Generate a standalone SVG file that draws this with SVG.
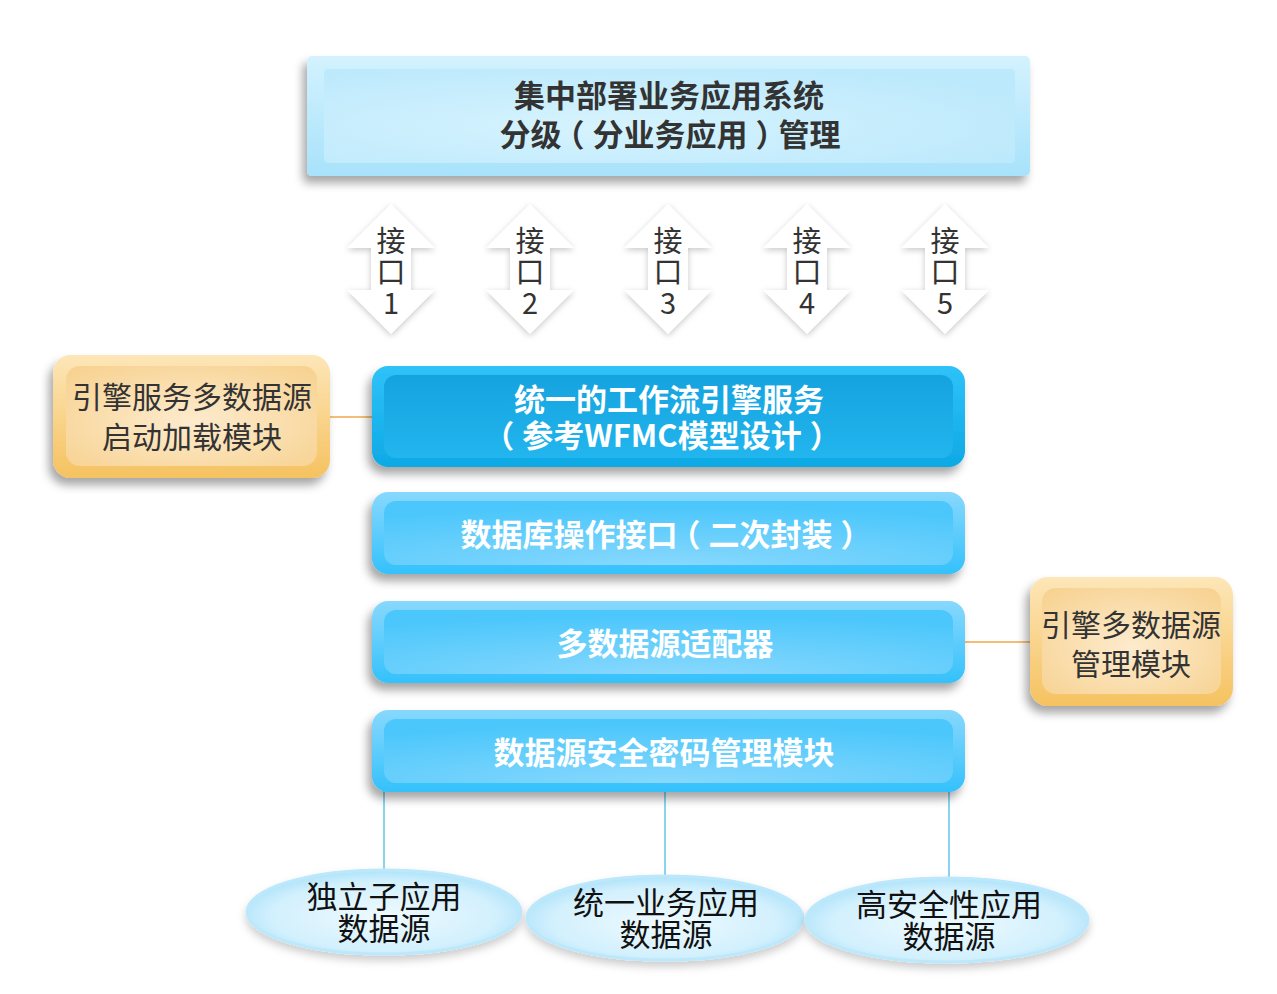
<svg xmlns="http://www.w3.org/2000/svg" width="1277" height="994" viewBox="0 0 1277 994">
<defs>
<filter id="sh" x="-20%" y="-30%" width="140%" height="170%">
<feDropShadow dx="-4" dy="7" stdDeviation="5" flood-color="#000" flood-opacity="0.35"/>
</filter>
<filter id="ash" x="-40%" y="-20%" width="180%" height="140%">
<feDropShadow dx="0" dy="2" stdDeviation="3" flood-color="#000" flood-opacity="0.22"/>
</filter>
<filter id="esh" x="-20%" y="-30%" width="140%" height="170%">
<feDropShadow dx="0" dy="5" stdDeviation="4" flood-color="#000" flood-opacity="0.2"/>
</filter>
<linearGradient id="topOuter" x1="0" y1="0" x2="0" y2="1">
<stop offset="0" stop-color="#d3f2fe"/><stop offset="1" stop-color="#a8e2fb"/>
</linearGradient>
<radialGradient id="topInner" cx="0.4" cy="0.6" r="0.7">
<stop offset="0" stop-color="#d6f3fe"/><stop offset="1" stop-color="#bce9fc"/>
</radialGradient>
<linearGradient id="b1Outer" x1="0" y1="0" x2="0" y2="1">
<stop offset="0" stop-color="#2fc2f9"/><stop offset="1" stop-color="#0ea9e5"/>
</linearGradient>
<linearGradient id="b1Inner" x1="0" y1="0" x2="0" y2="1">
<stop offset="0" stop-color="#15a3df"/><stop offset="1" stop-color="#22b5ee"/>
</linearGradient>
<linearGradient id="bOuter" x1="0" y1="0" x2="0" y2="1">
<stop offset="0" stop-color="#88d8fd"/><stop offset="1" stop-color="#34c1fb"/>
</linearGradient>
<radialGradient id="bInner" cx="0.5" cy="1" r="0.9">
<stop offset="0" stop-color="#88d8fd"/><stop offset="1" stop-color="#4cc7fb"/>
</radialGradient>
<linearGradient id="oOuter" x1="0" y1="0" x2="0" y2="1">
<stop offset="0" stop-color="#fde6b8"/><stop offset="1" stop-color="#f5c260"/>
</linearGradient>
<radialGradient id="oInner" cx="0.5" cy="0.55" r="0.7">
<stop offset="0" stop-color="#fdebcd"/><stop offset="1" stop-color="#f7d291"/>
</radialGradient>
<radialGradient id="eFill" cx="0.5" cy="0.55" r="0.55">
<stop offset="0" stop-color="#eefaff"/><stop offset="0.75" stop-color="#d2f0fd"/><stop offset="1" stop-color="#aee3fa"/>
</radialGradient>
<polygon id="arrow" points="0,0 44,44 20,44 20,86 44,86 0,130 -44,86 -20,86 -20,44 -44,44"/>
</defs>
<style>
.bt{font-family:"Noto Sans CJK SC","Noto Sans",sans-serif;font-weight:bold;font-size:31px;fill:#fff;text-anchor:middle}
.dt{font-family:"Noto Sans CJK SC","Noto Sans",sans-serif;font-weight:bold;font-size:31px;fill:#333;text-anchor:middle}
.rt{font-family:"Noto Sans CJK SC","Noto Sans",sans-serif;font-size:30px;fill:#333;text-anchor:middle}
.at{font-family:"Noto Sans CJK SC","Noto Sans",sans-serif;font-size:29px;fill:#333;text-anchor:middle}
.et{font-family:"Noto Sans CJK SC","Noto Sans",sans-serif;font-size:31px;fill:#111;text-anchor:middle}
.bl{stroke:#3bb7e8;stroke-width:1.2;fill:none}
.ol{stroke:#f0a94a;stroke-width:1.3;fill:none}
</style>
<rect width="1277" height="994" fill="#fff"/>

<g id="connectors">
<line class="ol" x1="330" y1="417" x2="372" y2="417"/>
<line class="ol" x1="965" y1="642" x2="1030" y2="642"/>
<line class="bl" x1="384" y1="790" x2="384" y2="872"/>
<line class="bl" x1="665" y1="790" x2="665" y2="877"/>
<line class="bl" x1="949" y1="790" x2="949" y2="879"/>
</g>

<g id="top">
<rect x="307" y="56" width="723" height="120" rx="5" fill="url(#topOuter)" filter="url(#sh)"/>
<rect x="324" y="69" width="691" height="94" rx="4" fill="url(#topInner)"/>
<text class="dt" x="669" y="107">集中部署业务应用系统</text>
<text class="dt" x="670" y="146">分级<tspan dx="-8">（</tspan><tspan dx="8">分业务应用</tspan><tspan dx="8">）</tspan><tspan dx="-8">管理</tspan></text>
</g>

<g id="arrows">
<g id="if1"><use href="#arrow" x="391" y="204" fill="#fff" filter="url(#ash)"/>
<text class="at" x="391" y="252">接</text><text class="at" x="391" y="283">口</text><text class="at" x="391" y="314">1</text></g>
<g id="if2"><use href="#arrow" x="530" y="204" fill="#fff" filter="url(#ash)"/>
<text class="at" x="530" y="252">接</text><text class="at" x="530" y="283">口</text><text class="at" x="530" y="314">2</text></g>
<g id="if3"><use href="#arrow" x="668" y="204" fill="#fff" filter="url(#ash)"/>
<text class="at" x="668" y="252">接</text><text class="at" x="668" y="283">口</text><text class="at" x="668" y="314">3</text></g>
<g id="if4"><use href="#arrow" x="807" y="204" fill="#fff" filter="url(#ash)"/>
<text class="at" x="807" y="252">接</text><text class="at" x="807" y="283">口</text><text class="at" x="807" y="314">4</text></g>
<g id="if5"><use href="#arrow" x="945" y="204" fill="#fff" filter="url(#ash)"/>
<text class="at" x="945" y="252">接</text><text class="at" x="945" y="283">口</text><text class="at" x="945" y="314">5</text></g>
</g>

<g id="engine">
<rect x="372" y="366" width="593" height="101" rx="16" fill="url(#b1Outer)" filter="url(#sh)"/>
<rect x="384" y="375" width="569" height="83" rx="12" fill="url(#b1Inner)"/>
<text class="bt" x="669" y="411">统一的工作流引擎服务</text>
<text class="bt" x="670" y="447"><tspan dx="-8">（</tspan><tspan dx="8">参考WFMC模型设计</tspan><tspan dx="8">）</tspan></text>
</g>

<g id="dbapi">
<rect x="372" y="492" width="593" height="82" rx="16" fill="url(#bOuter)" filter="url(#sh)"/>
<rect x="384" y="501" width="569" height="64" rx="12" fill="url(#bInner)"/>
<text class="bt" x="666" y="546">数据库操作接口<tspan dx="-8">（</tspan><tspan dx="8">二次封装</tspan><tspan dx="8">）</tspan></text>
</g>

<g id="adapter">
<rect x="372" y="601" width="593" height="82" rx="16" fill="url(#bOuter)" filter="url(#sh)"/>
<rect x="384" y="610" width="569" height="64" rx="12" fill="url(#bInner)"/>
<text class="bt" x="665" y="655">多数据源适配器</text>
</g>

<g id="security">
<rect x="372" y="710" width="593" height="82" rx="16" fill="url(#bOuter)" filter="url(#sh)"/>
<rect x="384" y="719" width="569" height="64" rx="12" fill="url(#bInner)"/>
<text class="bt" x="664" y="764">数据源安全密码管理模块</text>
</g>

<g id="loader">
<rect x="53" y="355" width="277" height="123" rx="18" fill="url(#oOuter)" filter="url(#sh)"/>
<rect x="66" y="366" width="251" height="100" rx="14" fill="url(#oInner)"/>
<text class="rt" x="192" y="408">引擎服务多数据源</text>
<text class="rt" x="192" y="448">启动加载模块</text>
</g>

<g id="manager">
<rect x="1030" y="577" width="203" height="129" rx="18" fill="url(#oOuter)" filter="url(#sh)"/>
<rect x="1042" y="588" width="179" height="106" rx="14" fill="url(#oInner)"/>
<text class="rt" x="1131" y="636">引擎多数据源</text>
<text class="rt" x="1131" y="675">管理模块</text>
</g>

<g id="ds1">
<ellipse cx="384" cy="912" rx="137" ry="42" fill="url(#eFill)" stroke="#bde8fb" stroke-width="3" filter="url(#esh)"/>
<text class="et" x="384" y="908">独立子应用</text>
<text class="et" x="384" y="940">数据源</text>
</g>
<g id="ds2">
<ellipse cx="665" cy="918" rx="138" ry="42" fill="url(#eFill)" stroke="#bde8fb" stroke-width="3" filter="url(#esh)"/>
<text class="et" x="666" y="914">统一业务应用</text>
<text class="et" x="666" y="946">数据源</text>
</g>
<g id="ds3">
<ellipse cx="947" cy="920" rx="141" ry="42" fill="url(#eFill)" stroke="#bde8fb" stroke-width="3" filter="url(#esh)"/>
<text class="et" x="949" y="916">高安全性应用</text>
<text class="et" x="949" y="948">数据源</text>
</g>
</svg>
